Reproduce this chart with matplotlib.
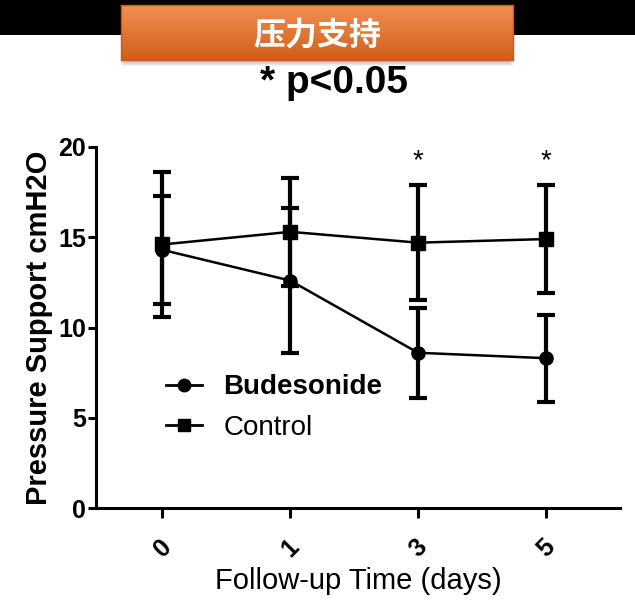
import matplotlib.pyplot as plt
import matplotlib.patches as patches
from matplotlib.lines import Line2D
import numpy as np

plt.rcParams['font.family'] = ['Liberation Sans', 'Noto Sans CJK SC', 'DejaVu Sans']

# data
days = ["0", "1", "3", "5"]
budesonide = [14.3, 12.6, 8.6, 8.3]
budesonide_err = [3.0, 4.0, 2.5, 2.4]
control = [14.6, 15.3, 14.7, 14.9]
control_err = [4.0, 3.0, 3.2, 3.0]
signif = ["", "", "*", "*"]

W, H = 635, 601
fig = plt.figure(figsize=(W / 100, H / 100), dpi=100)


def fx(px):
    return px / W


def fy(py):
    return 1 - py / H


# black band on top
fig.patches.append(patches.Rectangle((0, fy(35)), 1, 35 / H, transform=fig.transFigure,
                                     facecolor="black", edgecolor="none", zorder=0))

# soft shadow under the banner
for i in range(6):
    fig.patches.append(patches.Rectangle(
        (fx(121 + i), fy(60 + 6 - i)), (392 - 2 * i) / W, 10 / H,
        transform=fig.transFigure, facecolor="black", edgecolor="none",
        alpha=0.05, zorder=1))

# orange banner with vertical gradient
ban = fig.add_axes([fx(121), fy(60), 392 / W, 55 / H])
ban.set_zorder(5)
grad = np.linspace(0, 1, 100)[:, None, None]
top_c = np.array([0.95, 0.56, 0.33])
bot_c = np.array([0.82, 0.37, 0.10])
img = top_c * (1 - grad) + bot_c * grad
ban.imshow(img, aspect="auto", extent=[0, 1, 0, 1])
ban.set_xlim(0, 1)
ban.set_ylim(0, 1)
ban.set_xticks([])
ban.set_yticks([])
for s in ban.spines.values():
    s.set_color("#c9581b")
    s.set_linewidth(1)
ban.text(0.5, 0.45, "压力支持", color="white", fontsize=23, fontweight="bold",
         ha="center", va="center", family=["Noto Sans CJK SC", "DejaVu Sans"])

fig.text(fx(334), fy(83), "* p<0.05", fontsize=28, fontweight="bold",
         ha="center", va="center")

ax = fig.add_axes([fx(96), 93 / H, 524 / W, 361 / H])
x = np.arange(len(days))

ax.errorbar(x, control, yerr=control_err, color="black", marker="s", ms=10,
            lw=1.8, elinewidth=3, capsize=6.5, capthick=3)
ax.errorbar(x, budesonide, yerr=budesonide_err, color="black", marker="o", ms=9.5,
            lw=1.8, elinewidth=3, capsize=6.5, capthick=3)

for xi, s in zip(x, signif):
    if s:
        ax.text(xi, 19.2, s, fontsize=20, ha="center", va="center")

ax.set_xlim(-0.52, 3.58)
ax.set_ylim(0, 20)
ax.set_yticks([0, 5, 10, 15, 20])
ax.set_xticks(x)
ax.set_xticklabels(days, rotation=45, fontsize=18, fontweight="bold",
                   ha="center", va="top")
for lab in ax.get_yticklabels():
    lab.set_fontsize(18)
    lab.set_fontweight("bold")
ax.spines["top"].set_visible(False)
ax.spines["right"].set_visible(False)
ax.spines["left"].set_linewidth(2.2)
ax.spines["bottom"].set_linewidth(2.2)
ax.tick_params(axis="y", width=2.2, length=6, pad=1)
ax.tick_params(axis="x", width=2.2, length=7, pad=12)

ax.set_ylabel("Pressure Support cmH2O", fontsize=21, fontweight="bold", labelpad=4)
ax.set_xlabel("Follow-up Time (days)", fontsize=21, labelpad=4)

handles = [
    Line2D([], [], color="black", marker="o", ms=9, lw=2),
    Line2D([], [], color="black", marker="s", ms=9, lw=2),
]
leg = ax.legend(handles, ["Budesonide", "Control"], loc="upper left",
                bbox_to_anchor=(0.134, 0.37), frameon=False, fontsize=20,
                borderpad=0, borderaxespad=0, handlelength=1.3,
                handletextpad=0.75, labelspacing=0.52)
leg.get_texts()[0].set_fontweight("bold")

fig.savefig("out.png", dpi=100)
